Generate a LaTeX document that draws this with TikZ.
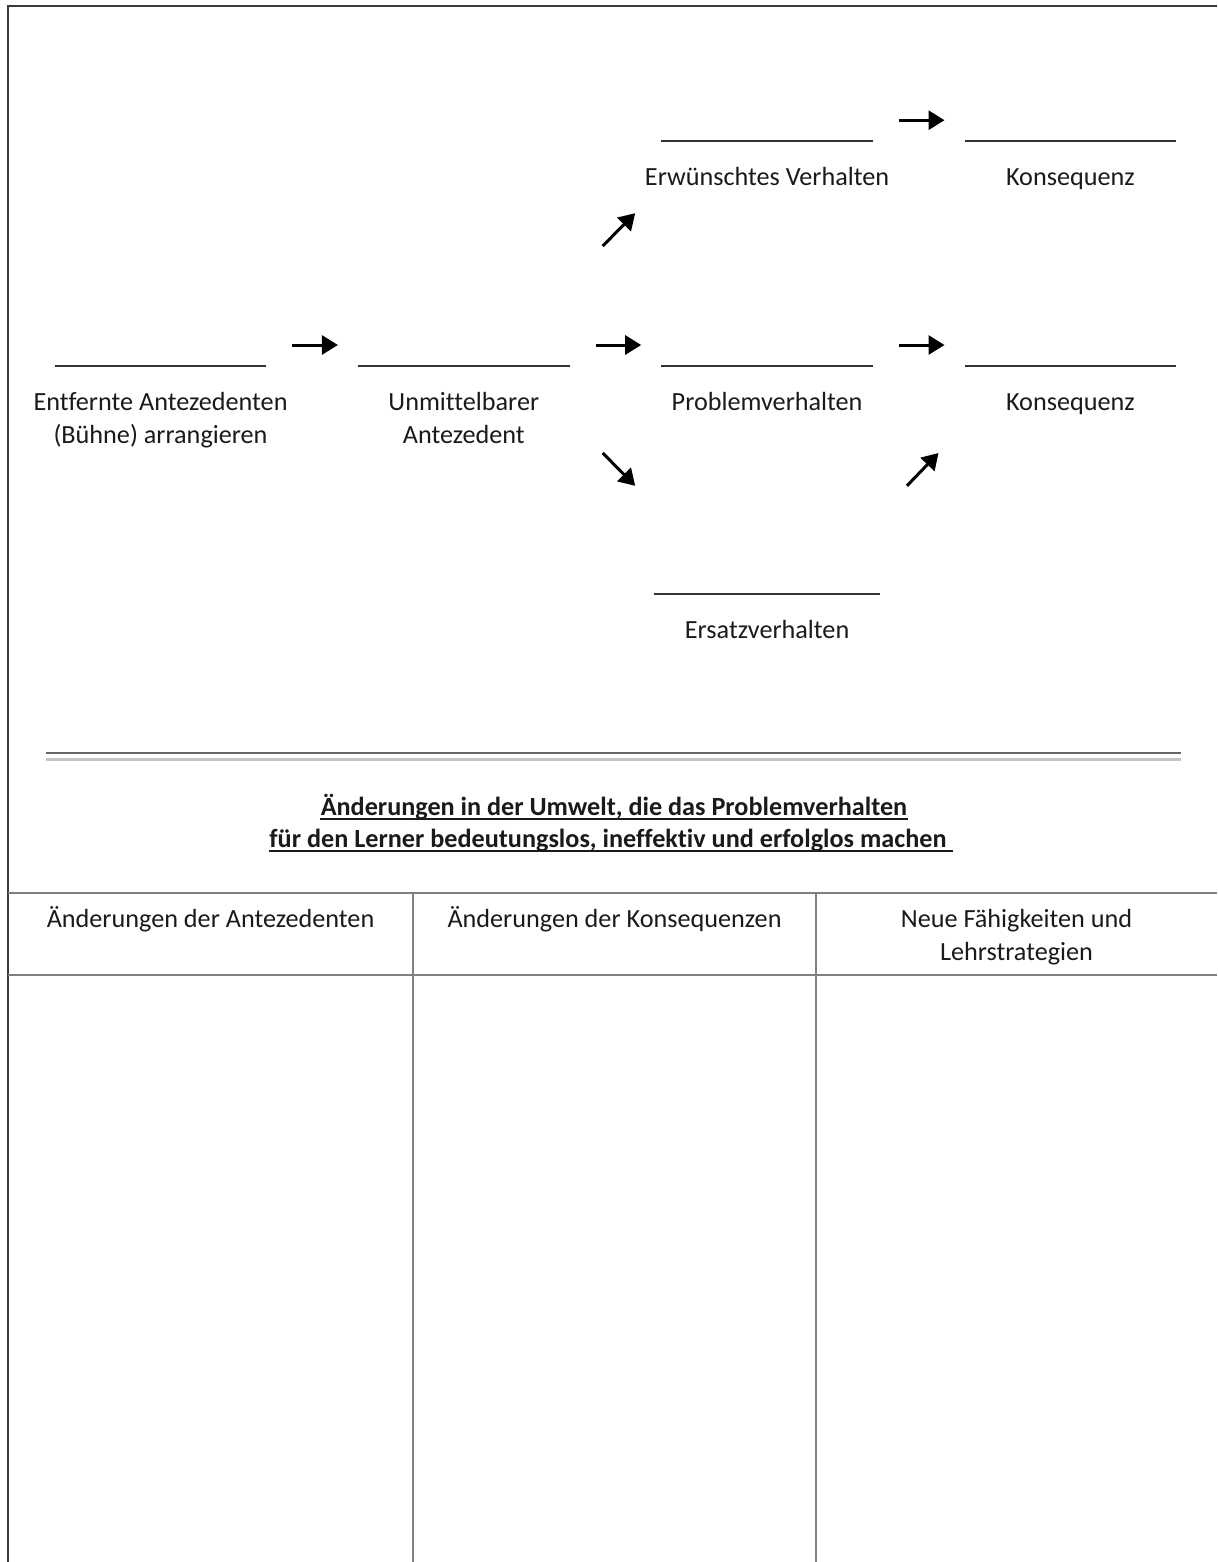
\documentclass[tikz,border=0pt]{standalone}
\usepackage{fontspec}
\setmainfont[Ligatures=NoCommon]{Carlito}
\usetikzlibrary{positioning,arrows.meta}
\definecolor{framegray}{HTML}{3A3A3A}
\definecolor{blankgray}{HTML}{333333}
\definecolor{gridgray}{HTML}{808080}
\definecolor{rulelight}{HTML}{C4C4C4}
\definecolor{textblack}{HTML}{1A1A1A}
\newcommand\lblfont{\fontsize{13.1}{16.5}\selectfont}
\tikzset{
    blank/.style={inner sep=0pt, minimum height=0pt, minimum width=105.5pt},
    blankline/.style={draw=blankgray, line width=1pt},
    lbl/.style={inner sep=0pt, align=center, font=\lblfont, text=textblack},
    arr/.style={-{Triangle[length=8pt,width=9.5pt]}, line width=1.5pt},
    frame/.style={draw=framegray, line width=1.2pt},
    grid/.style={draw=gridgray, line width=0.8pt},
    uline/.style={draw=textblack, line width=0.9pt}
}

\begin{document}
\begin{tikzpicture}[x=0.5pt,y=-0.5pt]
\useasboundingbox (0,0) rectangle (1217,1562);

% blanks
\node[blank] (ea) at (160.5,366) {};
\node[blank, right=45.75pt of ea] (ua) {};
\node[blank, right=45.75pt of ua] (pv) {};
\node[blank, right=45.75pt of pv] (ks) {};
\node[blank, above=112pt of pv] (ev) {};
\node[blank, above=112pt of ks] (ke) {};
\node[blank, minimum width=112.5pt, below=113.5pt of pv] (ez) {};
\foreach \n in {ea,ua,pv,ks,ev,ke,ez}
    \draw[blankline] (\n.west) -- (\n.east);

% labels (base of a two-line node is its last line)
\node[lbl, below=38.5pt of ea, anchor=base] (eal) {Entfernte Antezedenten\\(Bühne) arrangieren};
\node[lbl, below=38.5pt of ua, anchor=base] (ual) {Unmittelbarer\\Antezedent};
\node[lbl, below=22pt of pv, anchor=base] (pvl) {Problemverhalten};
\node[lbl, below=22pt of ks, anchor=base] (ksl) {Konsequenz};
\node[lbl, below=22pt of ev, anchor=base] (evl) {Erwünschtes Verhalten};
\node[lbl, below=22pt of ke, anchor=base] (kel) {Konsequenz};
\node[lbl, below=22pt of ez, anchor=base] (ezl) {Ersatzverhalten};

% arrows
\draw[arr] ([shift={(26,-21)}]ea.east) -- ([shift={(-20,-21)}]ua.west);
\draw[arr] ([shift={(26,-21)}]ua.east) -- ([shift={(-20,-21)}]pv.west);
\draw[arr] ([shift={(26,-21)}]pv.east) -- ([shift={(-20,-21)}]ks.west);
\draw[arr] ([shift={(26,-21)}]ev.east) -- ([shift={(-20,-21)}]ke.west);
\draw[arr] ([shift={(33,-120)}]ua.east) -- ([shift={(-26,72)}]ev.west);
\draw[arr] ([shift={(33,87)}]ua.east) -- ([shift={(-19,-108)}]ez.west);
\draw[arr] ([shift={(27,-108)}]ez.east) -- ([shift={(-26,87)}]ks.west);

% frame and double rule
\draw[frame] (8,1562) -- (8,6) -- (1217,6);
\draw[draw=gray!80!black, line width=1pt] (46,753) -- (1181,753);
\draw[draw=rulelight, line width=1.5pt] (46,759) -- (1181,759);

% title, underlined
\node[lbl, font=\lblfont\bfseries, anchor=base] (ttla) at (614,815)
    {Änderungen in der Umwelt, die das Problemverhalten};
\node[lbl, font=\lblfont\bfseries, anchor=base] (ttlb) at (608,847)
    {für den Lerner bedeutungslos, ineffektiv und erfolglos machen};
\draw[uline] ([yshift=-2pt]ttla.base west) -- ([yshift=-2pt]ttla.base east);
\draw[uline] ([yshift=-2pt]ttlb.base west) -- ([shift={(6,0)},yshift=-2pt]ttlb.base east);

% table
\draw[grid] (8,893) -- (1217,893);
\draw[grid] (8,975) -- (1217,975);
\draw[grid] (413,893) -- (413,1562);
\draw[grid] (816,893) -- (816,1562);
\node[lbl, anchor=base] (ha) at (210.5,927) {Änderungen der Antezedenten};
\node[lbl, anchor=base] (hk) at (614.5,927) {Änderungen der Konsequenzen};
\node[lbl, anchor=base] (hf) at (1016.5,960) {Neue Fähigkeiten und\\Lehrstrategien};
\end{tikzpicture}
\end{document}
